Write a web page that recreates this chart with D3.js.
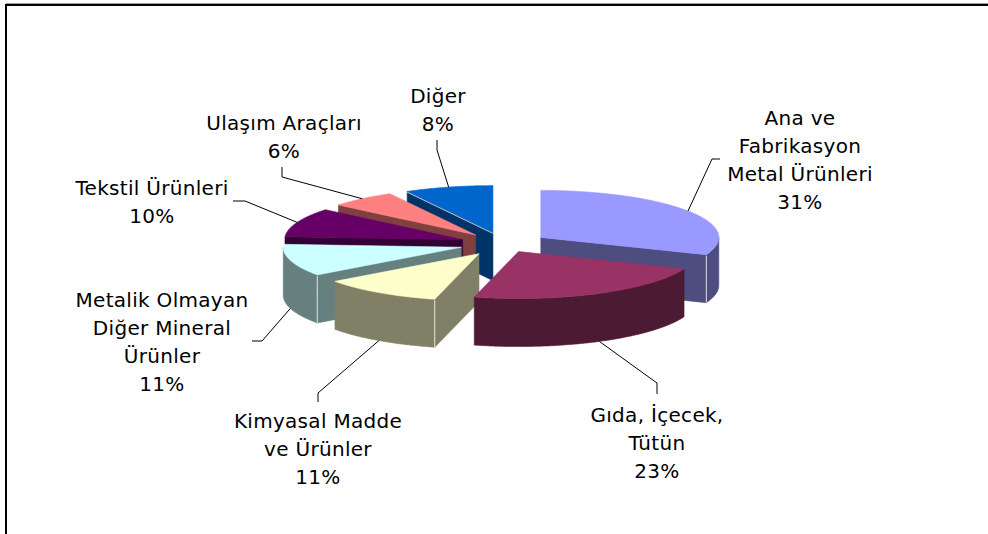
<!DOCTYPE html>
<html>
<head>
<meta charset="utf-8">
<script src="https://cdn.jsdelivr.net/npm/d3@7"></script>
<style>
  html, body { margin: 0; background: #fff; }
  svg { display: block; }
</style>
</head>
<body>
<div id="chart"></div>
<script>
// ---- data ----
var categories = ["Ana ve Fabrikasyon Metal Ürünleri", "Gıda, İçecek, Tütün", "Kimyasal Madde ve Ürünler",
  "Metalik Olmayan Diğer Mineral Ürünler", "Tekstil Ürünleri", "Ulaşım Araçları", "Diğer"];
var shares = [31, 23, 11, 11, 10, 6, 8];
var labelLines = [["Ana ve", "Fabrikasyon", "Metal Ürünleri"], ["Gıda, İçecek,", "Tütün"],
  ["Kimyasal Madde", "ve Ürünler"], ["Metalik Olmayan", "Diğer Mineral", "Ürünler"],
  ["Tekstil Ürünleri"], ["Ulaşım Araçları"], ["Diğer"]];

// ---- style / layout ----
var topColors = ["#9999ff", "#993366", "#ffffcc", "#ccffff", "#660066", "#ff8080", "#0066cc"];
var W = 988, H = 534;
var cx = 504, cy = 244, rx = 178, ry = 47, depth = 48;
var explode = [0.25, 0.18, 0.25, 0.25, 0.25, 0.25, 0.25];
// label centre x, first baseline, and the two label-side points of each leader
var labelPos = [
  { x: 800, y: 125, lead: [[720, 159], [712, 159]] },
  { x: 657, y: 422, lead: [[657, 394], [657, 383]] },
  { x: 318, y: 428, lead: [[318, 402], [318, 393]] },
  { x: 162, y: 307, lead: [[252, 341], [262, 341]] },
  { x: 152, y: 195, lead: [[233, 201], [245, 201]] },
  { x: 284, y: 130, lead: [[282, 167], [282, 177]] },
  { x: 438, y: 103, lead: [[437, 140], [437, 150]] }
];
var lineGap = 28;

var svg = d3.select("#chart").append("svg").attr("width", W).attr("height", H);

// chart frame (only top and left edges show in the picture)
svg.append("line").attr("x1", 6).attr("x2", W).attr("y1", 3.5).attr("y2", 3.5)
  .attr("stroke", "#9a9a9a").attr("stroke-width", 1);
svg.append("rect").attr("x", 6).attr("y", 5).attr("width", W + 20).attr("height", H + 20)
  .attr("fill", "none").attr("stroke", "#000").attr("stroke-width", 2);

var arcs = d3.pie().sort(null).startAngle(0).endAngle(2 * Math.PI)(shares);

var slices = arcs.map(function (a, i) {
  var mid = (a.startAngle + a.endAngle) / 2;
  return {
    i: i, a0: a.startAngle, a1: a.endAngle, mid: mid,
    ox: explode[i] * rx * Math.sin(mid), oy: -explode[i] * ry * Math.cos(mid),
    top: topColors[i], side: d3.interpolateRgb(topColors[i], "#000")(0.5)
  };
});

function proj(s, ang, r, z) {
  return [cx + s.ox + r * rx * Math.sin(ang), cy + s.oy - r * ry * Math.cos(ang) + z * depth];
}
function rim(s, from, to, z) {
  var n = Math.max(2, Math.ceil(Math.abs(to - from) / 0.01)), pts = [];
  for (var k = 0; k <= n; k++) pts.push(proj(s, from + (to - from) * k / n, 1, z));
  return pts;
}
var line = d3.line();
function poly(g, pts, fill) {
  g.append("path").attr("d", line(pts) + "Z").attr("fill", fill)
    .attr("stroke", fill).attr("stroke-width", 0.6).attr("stroke-linejoin", "round");
}

// paint back slices first
var order = slices.slice().sort(function (p, q) { return -Math.cos(p.mid) + Math.cos(q.mid); });
var gPie = svg.append("g");

order.forEach(function (s) {
  var g = gPie.append("g");
  var apexT = proj(s, 0, 0, 0), apexB = proj(s, 0, 0, 1);
  var lo = Math.max(s.a0, Math.PI / 2), hi = Math.min(s.a1, 3 * Math.PI / 2);
  var edges = [], topEdge = null;
  // start cut face
  if (Math.sin(s.a0) < -1e-6) {
    poly(g, [apexT, proj(s, s.a0, 1, 0), proj(s, s.a0, 1, 1), apexB], s.side);
    if (s.a0 >= Math.PI / 2 && s.a0 <= 3 * Math.PI / 2) edges.push(s.a0);
    else topEdge = s.a0;
  }
  // end cut face
  if (Math.sin(s.a1) > 1e-6) {
    poly(g, [apexT, proj(s, s.a1, 1, 0), proj(s, s.a1, 1, 1), apexB], s.side);
    if (s.a1 >= Math.PI / 2 && s.a1 <= 3 * Math.PI / 2) edges.push(s.a1);
  }
  // outer curved face, front half only
  if (hi > lo) poly(g, rim(s, lo, hi, 0).concat(rim(s, hi, lo, 1)), s.side);
  edges.forEach(function (ang) {
    var p = proj(s, ang, 1, 0), q = proj(s, ang, 1, 1);
    g.append("line").attr("x1", p[0]).attr("y1", p[1] + 1).attr("x2", q[0]).attr("y2", q[1])
      .attr("stroke", "#fff").attr("stroke-opacity", 0.8).attr("stroke-width", 1);
  });
  // top face
  poly(g, [apexT].concat(rim(s, s.a0, s.a1, 0)), s.top);
  // faint light edge where a back slice's cut face meets its top
  if (topEdge !== null && s.i === slices.length - 1) {
    var e = proj(s, topEdge, 1, 0);
    g.append("line").attr("x1", apexT[0]).attr("y1", apexT[1] + 0.8).attr("x2", e[0]).attr("y2", e[1] + 0.8)
      .attr("stroke", "#fff").attr("stroke-opacity", 0.7).attr("stroke-width", 1);
  }
});

// leaders and labels
var gLab = svg.append("g").attr("font-family", "'DejaVu Sans', Verdana, sans-serif")
  .attr("font-size", 20).attr("letter-spacing", 0.3).attr("fill", "#000").attr("text-anchor", "middle");

slices.forEach(function (s) {
  var lp = labelPos[s.i];
  var front = Math.cos(s.mid) < 0;
  var end = proj(s, s.mid, 1, front ? 1 : 0);
  svg.append("path").attr("d", d3.line()(lp.lead.concat([end])))
    .attr("fill", "none").attr("stroke", "#000").attr("stroke-width", 1);
  var lines = labelLines[s.i].concat([shares[s.i] + "%"]);
  var t = gLab.append("text").attr("aria-label", categories[s.i]);
  lines.forEach(function (txt, k) {
    t.append("tspan").attr("x", lp.x).attr("y", lp.y + k * lineGap).text(txt);
  });
});
</script>
</body>
</html>
